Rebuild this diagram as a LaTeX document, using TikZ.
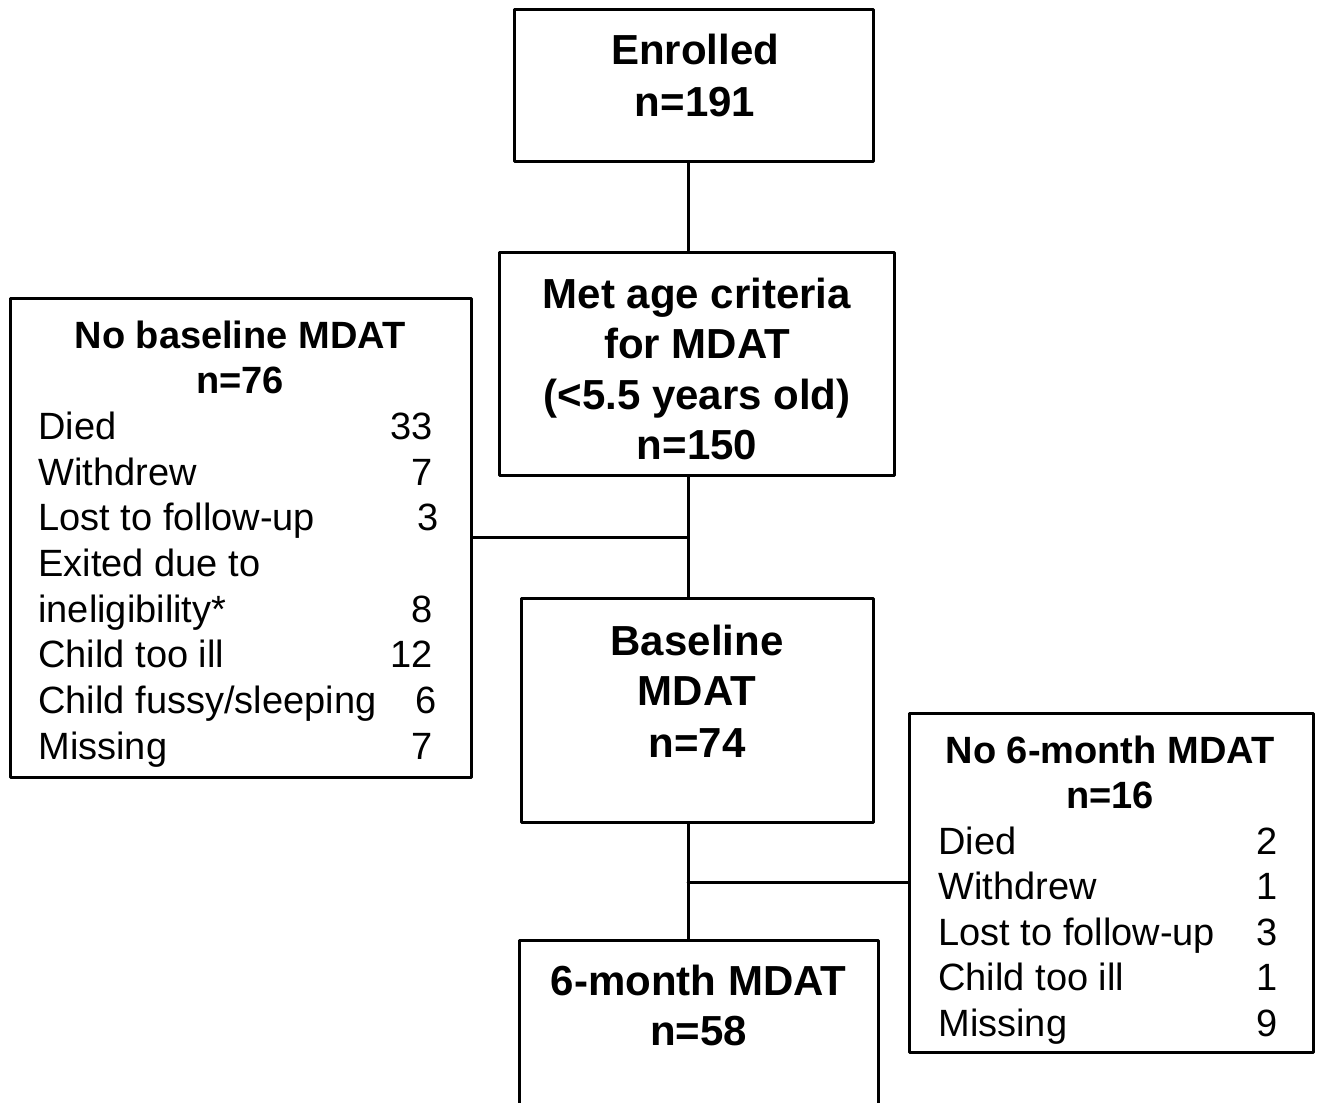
\documentclass[tikz,border=0pt]{standalone}
\usepackage{fontspec}
\setmainfont{Liberation Sans}

\begin{document}
\begin{tikzpicture}[x=0.5pt, y=-0.5pt, line join=round, line cap=round,
	box/.style={draw, line width=1.5pt, inner sep=0pt},
	ttl/.style={font=\fontsize{21}{25}\selectfont\bfseries, anchor=base, inner sep=0pt},
	hdr/.style={font=\fontsize{19}{23}\selectfont\bfseries, anchor=base, inner sep=0pt},
	item/.style={font=\fontsize{19}{23}\selectfont, inner sep=0pt},
	link/.style={line width=1.5pt}]
	\useasboundingbox (0,0) rectangle (1320,1102);
	
	% [Khung chinh]
	\node[box, minimum width=179.5pt, minimum height=75.5pt] (enrol) at (693.5,85.5) {};
	\node[box, minimum width=197.5pt, minimum height=111.5pt] (metage) at (696.5,363.5) {};
	\node[box, minimum width=176pt, minimum height=112pt] (base) at (697,710) {};
	\node[box, minimum width=179.5pt, minimum height=85pt] (six) at (698.5,1025) {};
	\node[box, minimum width=230.5pt, minimum height=239.5pt] (nobase) at (240.5,537.5) {};
	\node[box, minimum width=202pt, minimum height=169.5pt] (nosix) at (1111,882.5) {};
	
	% [Duong noi]
	\coordinate (spine) at (688,0);
	\draw[link] (enrol.south -| spine) -- (metage.north -| spine);
	\draw[link] (metage.south -| spine) -- (base.north -| spine);
	\draw[link] (nobase.east) -- (nobase.east -| spine);
	\draw[link] (base.south -| spine) -- (six.north -| spine);
	\draw[link] (nosix.west) -- (nosix.west -| spine);
	
	% [Nhan khung chinh]
	\node[ttl] (enrolA) at (695,65) {Enrolled};
	\node[ttl] (enrolB) at (695,117) {n=191};
	\node[ttl] (metA) at (697,308) {Met age criteria};
	\node[ttl] (metB) at (697,358) {for MDAT};
	\node[ttl] (metC) at (697,409) {(<5.5 years old)};
	\node[ttl] (metD) at (697,459) {n=150};
	\node[ttl] (baseA) at (697,655) {Baseline};
	\node[ttl] (baseB) at (697,705) {MDAT};
	\node[ttl] (baseC) at (697,757) {n=74};
	\node[ttl] (sixA) at (698.5,995) {6-month MDAT};
	\node[ttl] (sixB) at (698.5,1045) {n=58};
	
	% [Khung trai]
	\node[hdr] (nobaseA) at (240,348) {No baseline MDAT};
	\node[hdr] (nobaseB) at (240,393.7) {n=76};
	\foreach \txt/\num/\dx [count=\k] in {Died/33/0, Withdrew/7/0, Lost to follow-up/3/6,
		Exited due to/{}/0, ineligibility*/8/0, Child too ill/12/0,
		{Child fussy/sleeping}/6/4, Missing/7/0}{
		\node[item, anchor=base west] (nbL\k) at (38,393.7+45.7*\k) {\txt};
		\node[item, anchor=base east] (nbR\k) at (433+\dx,393.7+45.7*\k) {\num};
	}
	
	% [Khung phai]
	\node[hdr] (nosixA) at (1110,763) {No 6-month MDAT};
	\node[hdr] (nosixB) at (1110,808.5) {n=16};
	\foreach \txt/\num [count=\k] in {Died/2, Withdrew/1, Lost to follow-up/3,
		Child too ill/1, Missing/9}{
		\node[item, anchor=base west] (nsL\k) at (938,808.5+45.5*\k) {\txt};
		\node[item, anchor=base east] (nsR\k) at (1278,808.5+45.5*\k) {\num};
	}
\end{tikzpicture}
\end{document}
